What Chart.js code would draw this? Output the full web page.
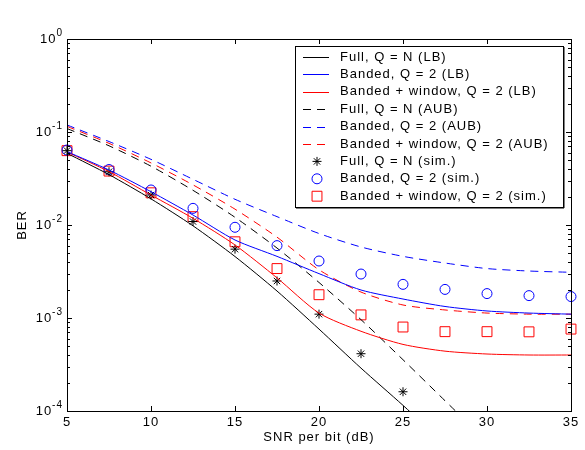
<!DOCTYPE html>
<html>
<head>
<meta charset="utf-8">
<script src="https://cdn.jsdelivr.net/npm/chart.js@4/dist/chart.umd.min.js"></script>
<style>
  html, body { margin: 0; padding: 0; background: #fff; }
</style>
</head>
<body>
<canvas id="c" width="585" height="450"></canvas>
<script>
// SNR per bit (dB)
const snr = [5, 7.5, 10, 12.5, 15, 17.5, 20, 22.5, 25, 27.5, 30, 32.5, 35];

// lower bounds
const fullLB = [0.059, 0.0348, 0.0191, 0.0098, 0.00458, 0.00195, 0.00076, 0.000289, 0.000115, 0.000044];
const bandLB = [0.0615, 0.039, 0.0228, 0.0128, 0.0069, 0.0046, 0.0030, 0.0020, 0.0016, 0.00133, 0.00119, 0.00113, 0.0011];
const windLB = [0.061, 0.0375, 0.021, 0.0118, 0.0061, 0.0027, 0.00113, 0.00072, 0.00052, 0.00044, 0.00041, 0.0004, 0.0004];

// approximate union bounds
const fullAUB = [0.109, 0.0711, 0.0429, 0.0236, 0.0121, 0.00565, 0.00241, 0.00096, 0.000356, 0.000129, 0.000047];
const bandAUB = [0.119, 0.079, 0.0508, 0.031, 0.0189, 0.0123, 0.0081, 0.0058, 0.0046, 0.0039, 0.0034, 0.0032, 0.0031];
const windAUB = [0.115, 0.0755, 0.0465, 0.027, 0.0148, 0.0074, 0.0033, 0.0019, 0.00138, 0.00122, 0.00113, 0.0011, 0.0011];

// simulations
const fullSim = [0.063, 0.0374, 0.021, 0.0109, 0.0055, 0.0025, 0.0011, 0.000413, 0.000161];
const bandSim = [0.064, 0.0395, 0.0238, 0.0151, 0.00945, 0.006, 0.0041, 0.00297, 0.0023, 0.00203, 0.00183, 0.00174, 0.0017];
const windSim = [0.063, 0.038, 0.0222, 0.0123, 0.0066, 0.0034, 0.00178, 0.00108, 0.0008, 0.000713, 0.000713, 0.00071, 0.00076];

const yDecades = [-4, -3, -2, -1, 0];

function pts(vals) {
  return vals.map((v, i) => ({ x: snr[i], y: v }));
}

function line(label, vals, color, dashed) {
  return {
    type: 'line', label, data: pts(vals),
    borderColor: color, borderWidth: 1, borderDash: dashed ? [8, 6] : [],
    pointRadius: 0, tension: 0.25, fill: false
  };
}

function sim(label, vals, color, style, r) {
  return {
    type: 'scatter', label, data: pts(vals),
    borderColor: color, backgroundColor: 'rgba(0,0,0,0)', borderWidth: 1,
    pointStyle: style, pointRadius: r, pointHoverRadius: r, showLine: false, clip: false
  };
}

Chart.defaults.font.family = '"Liberation Sans", Arial, Helvetica, sans-serif';
Chart.defaults.font.size = 13;
Chart.defaults.color = '#000';

const FONT = '13px "Liberation Sans", Arial, sans-serif';

// loose letter spacing like the old plot renderer
const spacing = {
  id: 'spacing',
  beforeDraw(chart) { chart.ctx.letterSpacing = '1px'; }
};

// box, inward ticks and y labels 10^n
const frame = {
  id: 'frame',
  afterDatasetsDraw(chart) {
    const { ctx, chartArea: a } = chart;
    const xs = chart.scales.x, ys = chart.scales.y;
    ctx.save();
    ctx.strokeStyle = '#000';
    ctx.lineWidth = 1;
    ctx.setLineDash([]);
    ctx.beginPath();
    for (let v = 5; v <= 35; v += 5) {
      const px = Math.round(xs.getPixelForValue(v)) + 0.5;
      ctx.moveTo(px, a.bottom); ctx.lineTo(px, a.bottom - 5);
      ctx.moveTo(px, a.top); ctx.lineTo(px, a.top + 5);
    }
    for (let d = -4; d < 0; d++) {
      for (let m = 1; m <= 9; m++) {
        const py = Math.round(ys.getPixelForValue(m * Math.pow(10, d))) + 0.5;
        const len = m === 1 ? 5 : 3;
        ctx.moveTo(a.left, py); ctx.lineTo(a.left + len, py);
        ctx.moveTo(a.right, py); ctx.lineTo(a.right - len, py);
      }
    }
    ctx.stroke();
    ctx.strokeRect(Math.round(a.left) + 0.5, Math.round(a.top) + 0.5,
      Math.round(a.right - a.left), Math.round(a.bottom - a.top));

    ctx.fillStyle = '#000';
    ctx.textBaseline = 'middle';
    yDecades.forEach(d => {
      const py = ys.getPixelForValue(Math.pow(10, d));
      const exp = d === 0 ? '0' : '-' + (-d);
      ctx.font = '10px "Liberation Sans", Arial, sans-serif';
      const ew = ctx.measureText(exp).width;
      const ex = a.left - 4 - ew;
      ctx.textAlign = 'left';
      ctx.fillText(exp, ex, py - 6);
      ctx.font = FONT;
      ctx.textAlign = 'right';
      ctx.fillText('10', ex, py);
    });
    ctx.restore();
  }
};

// legend box inside the plot, top right
const boxLegend = {
  id: 'boxLegend',
  afterDraw(chart) {
    const { ctx, chartArea: a } = chart;
    const right = a.right - 8, top = a.top + 7;
    const w = 268, h = 161;
    const left = right - w;
    ctx.save();
    ctx.fillStyle = '#fff';
    ctx.fillRect(left, top, w, h);
    ctx.fillStyle = '#000';
    ctx.fillRect(left + 1, top + h, w, 1.5);
    ctx.fillRect(left + w, top + 1, 1.5, h);
    ctx.strokeStyle = '#000';
    ctx.lineWidth = 1;
    ctx.strokeRect(Math.round(left) + 0.5, Math.round(top) + 0.5, w, h);
    ctx.font = FONT;
    ctx.textBaseline = 'middle';
    ctx.textAlign = 'left';
    chart.data.datasets.forEach((ds, i) => {
      const y = top + 11 + i * 17.4;
      ctx.strokeStyle = ds.borderColor;
      if (ds.type === 'line') {
        ctx.setLineDash(ds.borderDash);
        ctx.beginPath();
        ctx.moveTo(left + 8, Math.round(y) + 0.5);
        ctx.lineTo(left + 34, Math.round(y) + 0.5);
        ctx.stroke();
        ctx.setLineDash([]);
      } else {
        ctx.fillStyle = 'rgba(0,0,0,0)';
        Chart.helpers.drawPoint(ctx, { pointStyle: ds.pointStyle, radius: ds.pointRadius, rotation: 0, borderWidth: 1 }, left + 22, y);
      }
      ctx.fillStyle = '#000';
      ctx.fillText(ds.label, left + 45, y);
    });
    ctx.restore();
  }
};

new Chart(document.getElementById('c'), {
  data: {
    datasets: [
      line('Full, Q = N (LB)', fullLB, '#000000', false),
      line('Banded, Q = 2 (LB)', bandLB, '#0000ff', false),
      line('Banded + window, Q = 2 (LB)', windLB, '#ff0000', false),
      line('Full, Q = N (AUB)', fullAUB, '#000000', true),
      line('Banded, Q = 2 (AUB)', bandAUB, '#0000ff', true),
      line('Banded + window, Q = 2 (AUB)', windAUB, '#ff0000', true),
      sim('Full, Q = N (sim.)', fullSim, '#000000', 'star', 4.5),
      sim('Banded, Q = 2 (sim.)', bandSim, '#0000ff', 'circle', 5),
      sim('Banded + window, Q = 2 (sim.)', windSim, '#ff0000', 'rect', 7)
    ]
  },
  options: {
    responsive: false,
    animation: false,
    layout: { padding: { left: 0, right: 14, top: 39, bottom: 0 } },
    plugins: { legend: { display: false }, tooltip: { enabled: false } },
    scales: {
      x: {
        type: 'linear', min: 5, max: 35,
        ticks: { stepSize: 5, padding: 4 },
        grid: { display: false, drawTicks: false },
        border: { display: false },
        title: { display: true, text: 'SNR per bit (dB)', padding: 5 },
        afterFit(s) { s.height = 39; }
      },
      y: {
        type: 'logarithmic', min: 1e-4, max: 1,
        ticks: { display: false },
        grid: { display: false, drawTicks: false },
        border: { display: false },
        title: { display: true, text: 'BER', padding: 15 },
        afterFit(s) { s.width = 67; }
      }
    }
  },
  plugins: [spacing, frame, boxLegend]
});
</script>
</body>
</html>
